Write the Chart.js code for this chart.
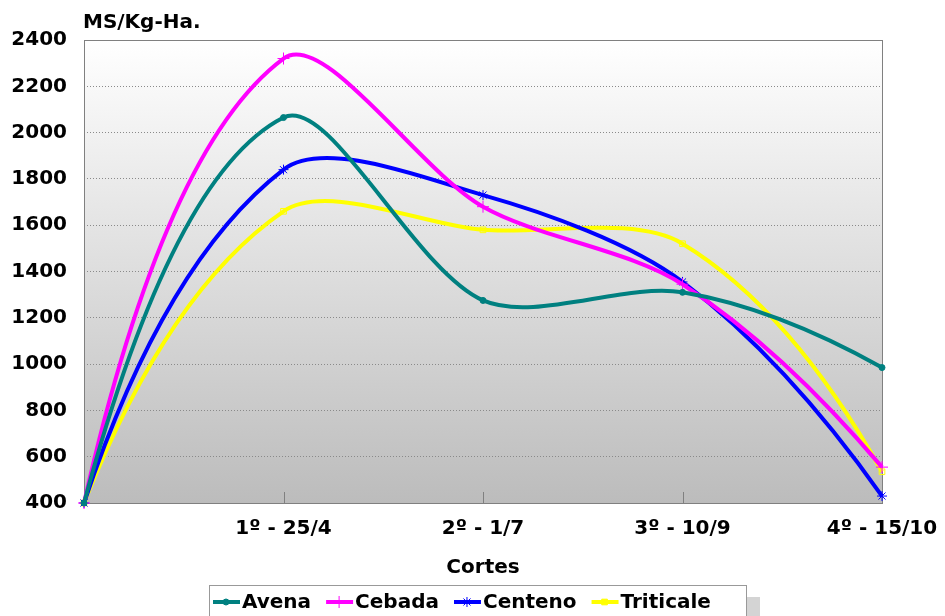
<!DOCTYPE html>
<html>
<head>
<meta charset="utf-8">
<script src="https://cdn.jsdelivr.net/npm/chart.js@4"></script>
<style>
html, body { margin: 0; padding: 0; background: #fff; }
</style>
</head>
<body>
<canvas id="chart" width="945" height="616"></canvas>
<script>
var cortes = ["", "1º - 25/4", "2º - 1/7", "3º - 10/9", "4º - 15/10"];
var avena = [400, 2065, 1275, 1310, 985];
var cebada = [400, 2320, 1680, 1345, 555];
var centeno = [400, 1840, 1730, 1355, 430];
var triticale = [400, 1660, 1580, 1520, 535];
var yMin = 400, yMax = 2400, yStep = 200;

var FONT = '"DejaVu Sans", Arial, sans-serif';
Chart.defaults.font.family = FONT;
Chart.defaults.color = '#000';

// Excel-like smoothing: the end segments get a parabolic end condition
// instead of Chart.js' straight start/finish
var excelEnds = {
    id: 'excelEnds',
    beforeDatasetsDraw: function(chart) {
        chart.data.datasets.forEach(function(ds, i) {
            var meta = chart.getDatasetMeta(i);
            var line = meta.dataset, pts = meta.data, n = pts.length;
            if (!line || n < 3) return;
            line.updateControlPoints(chart.chartArea, 'x');
            var p0 = pts[0], p1 = pts[1];
            var qx = p1.x + 1.5 * (p1.cp1x - p1.x), qy = p1.y + 1.5 * (p1.cp1y - p1.y);
            p0.cp2x = p0.x + 2 / 3 * (qx - p0.x);
            p0.cp2y = p0.y + 2 / 3 * (qy - p0.y);
            var a = pts[n - 2], b = pts[n - 1];
            qx = a.x + 1.5 * (a.cp2x - a.x);
            qy = a.y + 1.5 * (a.cp2y - a.y);
            b.cp1x = b.x + 2 / 3 * (qx - b.x);
            b.cp1y = b.y + 2 / 3 * (qy - b.y);
        });
    }
};

// background gradient, frame, title and legend box like the Excel original
var decor = {
    id: 'decor',
    beforeDraw: function(chart) {
        var a = chart.chartArea, ctx = chart.ctx;
        var g = ctx.createLinearGradient(0, a.top, 0, a.bottom);
        g.addColorStop(0, '#ffffff');
        g.addColorStop(1, '#bcbcbc');
        ctx.save();
        ctx.fillStyle = g;
        ctx.fillRect(a.left, a.top, a.right - a.left, a.bottom - a.top);
        ctx.restore();
    },
    beforeDatasetsDraw: function(chart) {
        var a = chart.chartArea, ctx = chart.ctx, xs = chart.scales.x;
        ctx.save();
        ctx.strokeStyle = '#808080';
        ctx.lineWidth = 1;
        ctx.strokeRect(a.left + 0.5, a.top + 0.5, a.right - a.left, a.bottom - a.top);
        ctx.beginPath();
        for (var i = 1; i < cortes.length - 1; i++) {
            var px = Math.round(xs.getPixelForValue(i)) + 0.5;
            ctx.moveTo(px, a.bottom);
            ctx.lineTo(px, a.bottom - 11);
        }
        ctx.stroke();
        ctx.restore();
    },
    afterDraw: function(chart) {
        var ctx = chart.ctx;
        ctx.save();
        ctx.fillStyle = '#000';
        ctx.font = 'bold 20px ' + FONT;
        ctx.textBaseline = 'alphabetic';
        ctx.fillText('MS/Kg-Ha.', 83, 28);

        // legend
        ctx.fillStyle = '#d4d4d4';
        ctx.fillRect(747, 597, 13, 19);
        ctx.fillStyle = '#fff';
        ctx.fillRect(209, 585, 537, 31);
        ctx.strokeStyle = '#999';
        ctx.lineWidth = 1;
        ctx.strokeRect(209.5, 585.5, 537, 40);
        var x = 213, y = 602;
        chart.data.datasets.forEach(function(ds) {
            ctx.strokeStyle = ds.borderColor;
            ctx.fillStyle = ds.borderColor;
            ctx.lineWidth = 4;
            ctx.beginPath();
            ctx.moveTo(x, y);
            ctx.lineTo(x + 27, y);
            ctx.stroke();
            ctx.lineWidth = 1;
            Chart.helpers.drawPoint(ctx, {pointStyle: ds.pointStyle, radius: ds.pointRadius, rotation: 0, borderWidth: 1}, x + 13, y);
            ctx.fillStyle = '#000';
            ctx.textBaseline = 'middle';
            ctx.fillText(ds.label, x + 29, y + 1);
            x += 29 + ctx.measureText(ds.label).width + 15;
        });
        ctx.restore();
    }
};

new Chart(document.getElementById("chart"), {
    type: 'line',
    data: {
        labels: cortes,
        datasets: [
            {
                label: "Avena",
                data: avena,
                borderColor: "#008080",
                backgroundColor: "#008080",
                pointStyle: 'circle',
                pointRadius: 3
            },
            {
                label: "Cebada",
                data: cebada,
                borderColor: "#ff00ff",
                backgroundColor: "#ff00ff",
                pointStyle: 'cross',
                pointRadius: 6
            },
            {
                label: "Centeno",
                data: centeno,
                borderColor: "#0000ff",
                backgroundColor: "#0000ff",
                pointStyle: 'star',
                pointRadius: 5
            },
            {
                label: "Triticale",
                data: triticale,
                borderColor: "#ffff00",
                backgroundColor: "rgba(255,255,0,0)",
                pointStyle: 'rect',
                pointRadius: 4
            }
        ]
    },
    plugins: [decor, excelEnds],
    options: {
        responsive: false,
        animation: false,
        layout: { padding: { top: 40, right: 63, left: 0, bottom: 36 } },
        elements: {
            line: { borderWidth: 4, tension: 0.3, fill: false, capBezierPoints: false },
            point: { borderWidth: 1, hoverRadius: 4 }
        },
        datasets: { line: { clip: false } },
        scales: {
            x: {
                offset: false,
                grid: { display: false },
                border: { display: false },
                ticks: {
                    padding: 6,
                    maxRotation: 0,
                    autoSkip: false,
                    font: { size: 20, weight: 'bold' }
                },
                title: {
                    display: true,
                    text: 'Cortes',
                    padding: 0,
                    font: { size: 20, weight: 'bold' }
                },
                afterFit: function(scale) { scale.height = 77; }
            },
            y: {
                min: yMin,
                max: yMax,
                grid: { color: '#8a8a8a', lineWidth: 1, drawTicks: false },
                border: { display: false, dash: [1, 2] },
                ticks: {
                    stepSize: yStep,
                    padding: 17,
                    font: { size: 20, weight: 'bold' },
                    callback: function(v) { return String(v); }
                },
                afterFit: function(scale) { scale.width = 84; }
            }
        },
        plugins: {
            legend: { display: false },
            title: { display: false },
            tooltip: { enabled: false }
        }
    }
});
</script>
</body>
</html>
